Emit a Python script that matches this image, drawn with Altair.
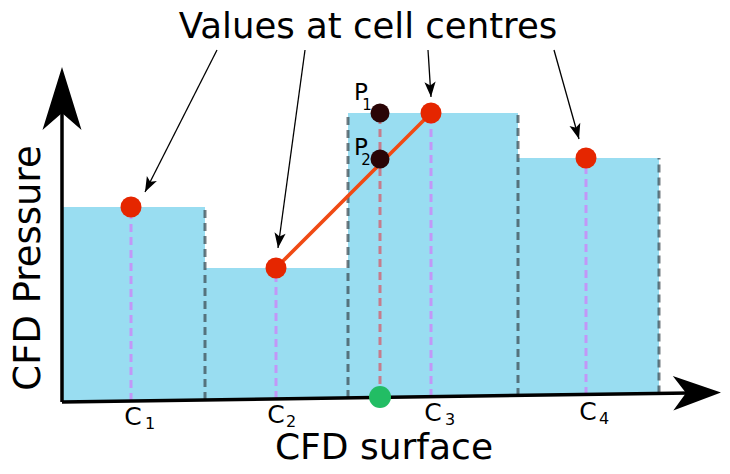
import altair as alt
import pandas as pd
import numpy as np

# ---- diagram data (units: 1 unit = 1 px, origin at axes corner) ----
cell_left = [0, 143, 286, 456]
cell_right = [143, 286, 456, 597]
cell_centre = [69, 214, 369, 524]
cell_value = [194, 133, 288, 243]
cell_base = [0, 2, 4, 6]

boundary_u = [143, 286, 456, 597]
boundary_top = [194, 288, 288, 243]
boundary_base = [1, 3, 5, 7.5]

probe_u = 318
probe_values = [288, 242]          # P1, P2
probe_base = 4

x_axis = {"u": 0, "p": -1, "u2": 628, "p2": 8}
y_axis = {"u": 0, "p": -1, "u2": 0, "p2": 288}

# annotation arrows (start -> tip)
ann_u0 = [155, 243, 366, 492]
ann_p0 = [351, 351, 351, 351]
ann_u1 = [83, 216, 369, 517]
ann_p1 = [209, 153, 304, 262]

title_text = "Values at cell centres"
xlabel_text = "CFD surface"
ylabel_text = "CFD Pressure"
c_labels = ["1", "2", "3", "4"]
c_label_u = [71, 214, 371, 526]
c_label_p = [-16, -14, -12, -11]
c_sub_u = [88, 229, 388, 542]
c_sub_p = [-23, -21, -19, -18]
p_labels = ["1", "2"]
p_label_u = [299, 299]
p_label_p = [308, 253]
p_sub_u = [305, 304]
p_sub_p = [296, 241]

XS = alt.Scale(domain=[-54, 660], zero=False, nice=False)
YS = alt.Scale(domain=[-63, 393], zero=False, nice=False)


def X(f="u"):
    return alt.X(f"{f}:Q", scale=XS, axis=None)


def Y(f="p"):
    return alt.Y(f"{f}:Q", scale=YS, axis=None)


FONT = "DejaVu Sans"

# bars
bars_df = pd.DataFrame({"l": cell_left, "r": cell_right, "b": cell_base, "t": cell_value})
bars = alt.Chart(bars_df).mark_rect(color="#99DDF1", strokeWidth=0).encode(
    x=X("l"), x2="r", y=Y("b"), y2="t")

bnd_df = pd.DataFrame({"u": boundary_u, "b": boundary_base, "t": boundary_top})
bnd = alt.Chart(bnd_df).mark_rule(color="#3a4a50", opacity=0.72, strokeWidth=3,
                                   strokeDash=[8, 5]).encode(x=X("u"), y=Y("b"), y2="t")

cen_df = pd.DataFrame({"u": cell_centre, "b": cell_base, "t": cell_value})
cen = alt.Chart(cen_df).mark_rule(color="#C297F7", strokeWidth=3,
                                  strokeDash=[8, 5]).encode(x=X("u"), y=Y("b"), y2="t")

prb_df = pd.DataFrame({"u": [probe_u], "b": [probe_base], "t": [max(probe_values)]})
prb = alt.Chart(prb_df).mark_rule(color="#C67C8C", strokeWidth=3,
                                  strokeDash=[8, 5]).encode(x=X("u"), y=Y("b"), y2="t")

axes_df = pd.DataFrame([x_axis, y_axis])
axes = alt.Chart(axes_df).mark_rule(color="black", strokeWidth=3.5).encode(
    x=X("u"), x2="u2", y=Y("p"), y2="p2")

interp_df = pd.DataFrame({"u": [cell_centre[1]], "p": [cell_value[1]],
                          "u2": [cell_centre[2]], "p2": [cell_value[2]]})
interp = alt.Chart(interp_df).mark_rule(color="#F04A14", strokeWidth=3.6).encode(
    x=X("u"), x2="u2", y=Y("p"), y2="p2")

# dots
dots_df = pd.DataFrame({
    "u": cell_centre + [probe_u, probe_u, probe_u],
    "p": cell_value + probe_values + [probe_base],
    "c": ["#E52600"] * 4 + ["#2A0506", "#2A0506", "#22BD64"],
    "s": [441] * 4 + [361, 361, 484],
})
dots = alt.Chart(dots_df).mark_circle(opacity=1).encode(
    x=X(), y=Y(), color=alt.Color("c:N", scale=None), size=alt.Size("s:Q", scale=None))

# axis arrowheads
AXHEAD = "M0,-1L0.62,1L0,0.46L-0.62,1Z"
y_tip = (0, 334)
x_tip = (659, 8.4)


def head_rows(tips, dirs, size):
    rows = []
    s = np.sqrt(size) / 2
    for (tu, tp), (du, dp) in zip(tips, dirs):
        n = np.hypot(du, dp)
        du, dp = du / n, dp / n
        ang = np.degrees(np.arctan2(du, dp)) % 360
        rows.append({"u": tu - du * s, "p": tp - dp * s, "a": ang})
    return pd.DataFrame(rows)


yhead_df = head_rows([y_tip], [(0, 1)], 3969)
yhead = alt.Chart(yhead_df).mark_point(shape=AXHEAD, filled=True, color="black",
                                       opacity=1, size=3969, strokeWidth=0).encode(
    x=X(), y=Y(), angle=alt.Angle("a:Q", scale=None))
xhead_df = head_rows([x_tip], [(628, 9)], 2300)
xhead = alt.Chart(xhead_df).mark_point(shape="M0,-1L0.72,1L0,0.46L-0.72,1Z", filled=True,
                                       color="black", opacity=1, size=2300,
                                       strokeWidth=0).encode(
    x=X(), y=Y(), angle=alt.Angle("a:Q", scale=None))

# annotation arrows
ann_df = pd.DataFrame({"u": ann_u0, "p": ann_p0, "u2": ann_u1, "p2": ann_p1})
ann = alt.Chart(ann_df).mark_rule(color="black", strokeWidth=1.3).encode(
    x=X("u"), x2="u2", y=Y("p"), y2="p2")
ahead_df = head_rows(list(zip(ann_u1, ann_p1)),
                     [(b - a, d - c) for a, b, c, d in zip(ann_u0, ann_u1, ann_p0, ann_p1)], 256)
ahead = alt.Chart(ahead_df).mark_point(shape="M0,-1L0.7,0.9L0,0.45L-0.7,0.9Z", filled=True,
                                       color="black", opacity=1, size=256,
                                       strokeWidth=0).encode(
    x=X(), y=Y(), angle=alt.Angle("a:Q", scale=None))

# texts
txt_rows = [
    {"t": title_text, "u": 306, "p": 374, "fs": 35.5, "a": 0},
    {"t": xlabel_text, "u": 322, "p": -47, "fs": 36, "a": 0},
    {"t": ylabel_text, "u": -33, "p": 133, "fs": 37, "a": 270},
]
for lab, u, p in zip(c_labels, c_label_u, c_label_p):
    txt_rows.append({"t": "C", "u": u, "p": p, "fs": 25, "a": 0})
for lab, u, p in zip(c_labels, c_sub_u, c_sub_p):
    txt_rows.append({"t": lab, "u": u, "p": p, "fs": 16, "a": 0})
for lab, u, p in zip(p_labels, p_label_u, p_label_p):
    txt_rows.append({"t": "P", "u": u, "p": p, "fs": 23, "a": 0})
for lab, u, p in zip(p_labels, p_sub_u, p_sub_p):
    txt_rows.append({"t": lab, "u": u, "p": p, "fs": 15, "a": 0})
txt_df = pd.DataFrame(txt_rows)
texts = alt.Chart(txt_df).mark_text(font=FONT, color="black", baseline="middle",
                                    align="center").encode(
    x=X(), y=Y(), text="t:N", size=alt.Size("fs:Q", scale=None),
    angle=alt.Angle("a:Q", scale=None))

chart = alt.layer(bars, bnd, cen, prb, axes, interp, ann, ahead, dots, yhead, xhead, texts).properties(
    width=714, height=456, padding=0, autosize=alt.AutoSizeParams(type="none")
).configure_view(stroke=None)

chart.save("out.html", embed_options={"renderer": "svg", "actions": False})
